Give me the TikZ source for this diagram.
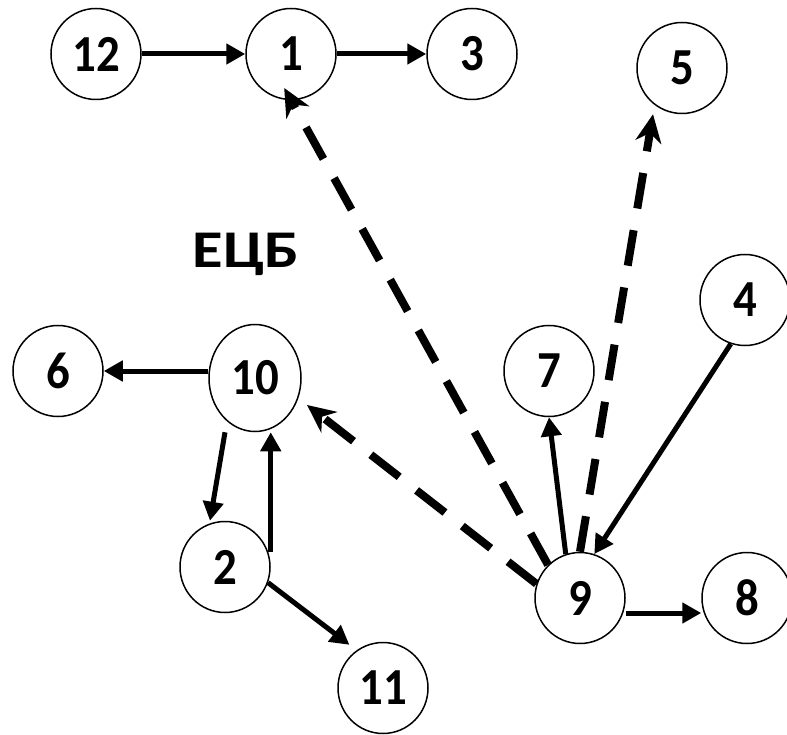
\documentclass[tikz,border=0pt]{standalone}
\usepackage{fontspec}
\usepackage{graphicx}
\setmainfont{Carlito}
\usetikzlibrary{arrows.meta,shapes.geometric}
\newcommand{\dgt}[1]{\scalebox{0.9}[1]{#1}}
\begin{document}
\begin{tikzpicture}[x=1pt,y=-1pt,
  vtx/.style={draw,ellipse,line width=1.5pt,minimum width=90pt,minimum height=91pt,inner sep=0pt,font=\bfseries\fontsize{52}{52}\selectfont},
  solidarr/.style={line width=5pt,-{Triangle[length=19pt,width=20pt]}},
  dasharr/.style={line width=8pt,dash pattern=on 36pt off 22pt,-{Stealth[length=28pt,width=26pt,inset=9pt]}}]
\useasboundingbox (0,0) rectangle (787,735);
\node[vtx] (n12) at (96,54) {\dgt{12}};
\node[vtx] (n1) at (291,54) {\dgt{1}};
\node[vtx] (n3) at (472,54) {\dgt{3}};
\node[vtx] (n5) at (682,68) {\dgt{5}};
\node[vtx] (n4) at (745,300) {\dgt{4}};
\node[vtx] (n7) at (549,371) {\dgt{7}};
\node[vtx] (n6) at (58,371) {\dgt{6}};
\node[vtx,minimum width=92pt,minimum height=107pt] (n10) at (255,378) {\dgt{10}};
\node[vtx] (n2) at (225,567) {\dgt{2}};
\node[vtx] (n9) at (580,598) {\dgt{9}};
\node[vtx] (n8) at (747,598) {\dgt{8}};
\node[vtx] (n11) at (383,688) {\dgt{11}};
\node[font=\bfseries\fontsize{53}{53}\selectfont,anchor=base,inner sep=0pt] (lbl) at (246,268) {\scalebox{1.18}[1]{ЕЦБ}};

\draw[solidarr] (n12) -- (n1);
\draw[solidarr] (n1) -- (n3);
\draw[solidarr] (n10.west |- n6) -- (n6);
\draw[solidarr] ([xshift=-30pt]n10.south) -- ([xshift=-15pt]n2.north);
\draw[solidarr] ([yshift=15pt]n2.east) -- (n2.east |- n10.south);
\draw[solidarr,shorten >=9pt] (n2.-20) -- (n11.125);
\draw[solidarr] ([yshift=-15pt]n9.east) -- ([yshift=-15pt]n8.west);
\draw[solidarr] (n9.108) -- (n7.south);
\draw[solidarr] (n4.252) -- (n9.72);

\draw[dasharr,shorten >=-14pt] (n9.134) -- (n1.south);
\draw[dasharr] (n9.north) -- ([xshift=-29pt]n5.south);
\draw[dasharr,shorten >=11pt] (n9.162) -- (n10.-25);
\end{tikzpicture}
\end{document}
